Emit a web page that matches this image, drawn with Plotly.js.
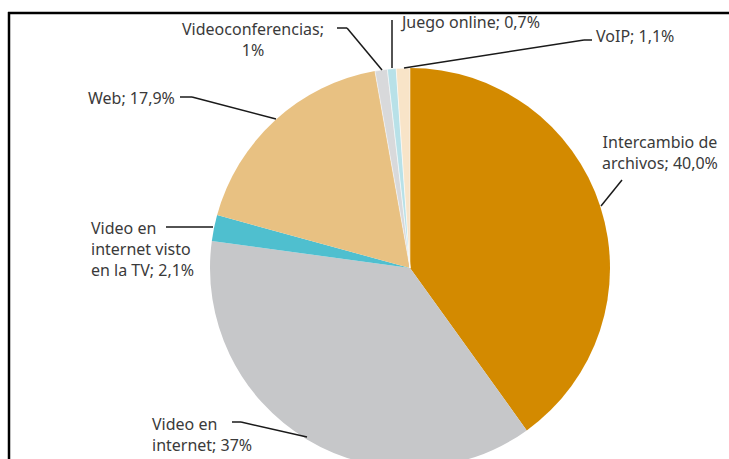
<!DOCTYPE html>
<html>
<head>
<meta charset="utf-8">
<script src="https://cdn.plot.ly/plotly-3.0.1.min.js"></script>
<style>
html,body{margin:0;padding:0;overflow:hidden;background:#fff;}
#chart{width:729px;height:480px;}
</style>
</head>
<body>
<div id="chart"></div>
<script>
// Data
const categories = ["Intercambio de archivos", "Video en internet", "Video en internet visto en la TV", "Web", "Videoconferencias", "Juego online", "VoIP"];
const values = [40.0, 37, 2.1, 17.9, 1, 0.7, 1.1];
const labelTexts = ["Intercambio de<br>archivos; 40,0%", "Video en<br>internet; 37%", "Video en<br>internet visto<br>en la TV; 2,1%", "Web; 17,9%", "Videoconferencias;<br>1%", "Juego online; 0,7%", "VoIP; 1,1%"];
const colors = ["#D38A00", "#C6C7C9", "#4FBFCF", "#E8C182", "#D8D9DB", "#B8E1E8", "#F8E4C8"];

const W = 729, H = 480;
const px = x => x / W;
const py = y => 1 - y / H;

// Pie geometry (pixels)
const cx = 410, cy = 268, R = 200;

const trace = {
  type: "pie",
  labels: categories,
  values: values,
  sort: false,
  direction: "clockwise",
  rotation: 0,
  textinfo: "none",
  hoverinfo: "label+percent",
  marker: {colors: colors, line: {color: "#ffffff", width: [0, 0, 0, 0, 0.5, 0.5, 0.5]}},
  domain: {x: [px(cx - R), px(cx + R)], y: [py(cy + R), py(cy - R)]},
  showlegend: false
};

const textFont = {family: "Noto Sans, Open Sans, sans-serif", size: 16, color: "#3a3a3a"};

// label placements (pixels)
const labelPos = [
  {x: 660, y: 152, xa: "center", align: "center"},
  {x: 150, y: 434, xa: "left", align: "left"},
  {x: 89, y: 249, xa: "left", align: "left"},
  {x: 86, y: 98, xa: "left", align: "left"},
  {x: 253, y: 39, xa: "center", align: "center"},
  {x: 398, y: 22, xa: "left", align: "left"},
  {x: 594, y: 36, xa: "left", align: "left"}
];

const leaders = [
  [[622, 180], [601, 206]],
  [[232, 422], [241, 422], [307, 437]],
  [[166, 227], [213, 227]],
  [[180, 97], [192, 97], [276, 119]],
  [[337, 28], [347, 28], [382, 70]],
  [[392, 20], [392, 68]],
  [[592, 40], [584, 40], [404, 68]]
];

const annotations = labelTexts.map((t, i) => ({
  text: t,
  xref: "paper", yref: "paper",
  x: px(labelPos[i].x), y: py(labelPos[i].y),
  xanchor: labelPos[i].xa, yanchor: "middle",
  align: labelPos[i].align,
  showarrow: false,
  font: textFont
}));

const shapes = [];
leaders.forEach(pts => {
  for (let k = 0; k < pts.length - 1; k++) {
    shapes.push({
      type: "line", xref: "paper", yref: "paper",
      x0: px(pts[k][0]), y0: py(pts[k][1]),
      x1: px(pts[k + 1][0]), y1: py(pts[k + 1][1]),
      line: {color: "#1a1a1a", width: 1.5}
    });
  }
});
// frame lines
shapes.push({type: "line", xref: "paper", yref: "paper", x0: px(8), y0: py(13), x1: px(729), y1: py(13), line: {color: "#000", width: 2.5}});
shapes.push({type: "line", xref: "paper", yref: "paper", x0: px(9), y0: py(12), x1: px(9), y1: py(480), line: {color: "#000", width: 2.5}});

const layout = {
  width: W, height: H,
  margin: {l: 0, r: 0, t: 0, b: 0},
  paper_bgcolor: "#ffffff",
  plot_bgcolor: "#ffffff",
  annotations: annotations,
  shapes: shapes
};

Plotly.newPlot("chart", [trace], layout, {displayModeBar: false, staticPlot: true});
</script>
</body>
</html>
